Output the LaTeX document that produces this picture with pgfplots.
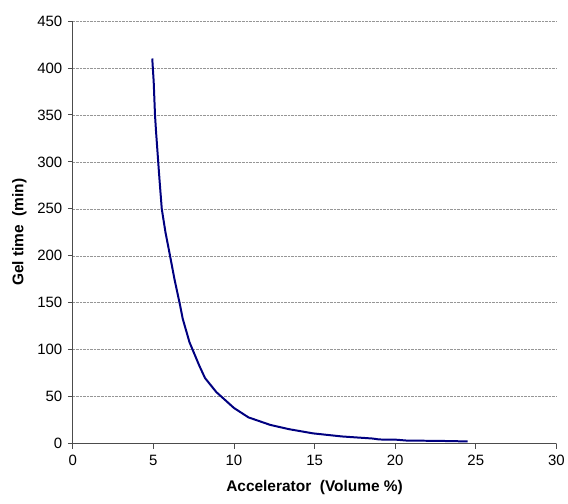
\documentclass[border=0pt]{standalone}
\usepackage{pgfplots}
\pgfplotsset{compat=1.18}
\usepackage{fontspec}
\setmainfont{Liberation Sans}
\definecolor{curveblue}{RGB}{0,0,128}
\definecolor{gridgray}{RGB}{150,150,150}

\begin{document}
\begin{tikzpicture}
\begin{axis}[
    scale only axis,
    width=485pt, height=424pt,
    xmin=0, xmax=30, ymin=0, ymax=450,
    xtick={0,5,...,30}, ytick={0,50,...,450},
    axis x line*=bottom, axis y line*=left,
    axis line style={black!70, line width=0.8pt},
    tick align=outside, major tick length=5pt,
    tick style={black!70, line width=0.8pt},
    ymajorgrids,
    major grid style={gridgray, densely dotted, line width=0.6pt},
    ticklabel style={font=\fontsize{15}{18}\selectfont},
    /pgf/number format/assume math mode=true,
    xticklabel style={yshift=-3pt},
    yticklabel style={xshift=-2pt},
    xlabel={\textbf{Accelerator\ \ (Volume \%)}},
    ylabel={\textbf{Gel time\ \ (min)}},
    label style={font=\fontsize{15.5}{18}\selectfont},
    xlabel style={yshift=-8pt},
    ylabel style={yshift=4pt},
]
\coordinate (o) at (rel axis cs:0,0);
\coordinate (t) at (rel axis cs:1,1);
\addplot[curveblue, line width=2pt, line join=round] coordinates {
    (4.93,410) (5.02,385) (5.1,350) (5.17,331) (5.25,312) (5.32,295)
    (5.38,281) (5.52,250) (5.75,225) (6.0,203) (6.31,175) (6.66,147)
    (6.82,133) (7.24,108) (7.85,83) (8.2,70) (8.9,55) (10.0,38)
    (10.9,28) (12.25,20) (13.4,15.5) (14.9,11) (16.7,7.7) (18.6,5.5)
    (19.0,4.5) (20.1,4.2) (20.8,3.2) (22.4,3.1) (24.5,2.4)
};
\end{axis}
\path ([shift={(-73pt,-60pt)}]o) rectangle ([shift={(10pt,21pt)}]t);
\end{tikzpicture}
\end{document}
